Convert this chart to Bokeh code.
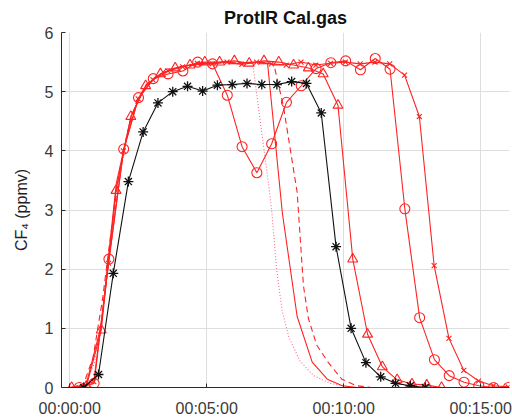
from bokeh.plotting import figure
from bokeh.models import Range1d, FixedTicker
from bokeh.embed import file_html
from bokeh.resources import INLINE

# ---- data (time in minutes, CF4 in ppmv) ----
x_ticks = [0, 5, 10, 15]
x_tick_labels = ["00:00:00", "00:05:00", "00:10:00", "00:15:00"]
y_ticks = [0, 1, 2, 3, 4, 5, 6]

black_t = [0.51, 1.05, 1.59, 2.14, 2.68, 3.22, 3.76, 4.30, 4.85, 5.39, 5.93, 6.47,
           7.01, 7.56, 8.10, 8.64, 9.18, 9.72, 10.27, 10.81, 11.35, 11.89, 12.43, 12.98]
black_v = [0.0, 0.22, 1.93, 3.48, 4.32, 4.81, 5.0, 5.09, 5.01, 5.11, 5.12, 5.14,
           5.12, 5.12, 5.17, 5.14, 4.64, 2.38, 1.0, 0.42, 0.18, 0.07, 0.03, 0.0]

circ_t = [0.35, 0.89, 1.43, 1.97, 2.51, 3.05, 3.59, 4.13, 4.67, 5.21, 5.75, 6.29,
          6.83, 7.37, 7.91, 8.45, 8.99, 9.53, 10.07, 10.61, 11.15, 11.69, 12.23,
          12.77, 13.31, 13.85, 14.39, 14.93, 15.47, 16.01]
circ_v = [0.0, 0.07, 2.17, 4.03, 4.9, 5.22, 5.3, 5.35, 5.5, 5.47, 4.94, 4.07,
          3.63, 4.12, 4.82, 5.1, 5.39, 5.49, 5.52, 5.37, 5.56, 5.38, 3.02,
          1.18, 0.47, 0.2, 0.09, 0.03, 0.0, 0.0]

xmk_t = [0.34, 0.88, 1.42, 1.96, 2.5, 3.04, 3.58, 4.12, 4.66, 5.2, 5.74, 6.28,
         6.82, 7.36, 7.9, 8.44, 8.98, 9.52, 10.06, 10.6, 11.14, 11.68, 12.22,
         12.76, 13.3, 13.84, 14.38, 14.92, 15.46, 16.0]
xmk_v = [0.0, 0.1, 2.1, 4.0, 4.88, 5.2, 5.35, 5.42, 5.48, 5.47, 5.5, 5.46,
         5.5, 5.47, 5.45, 5.5, 5.45, 5.48, 5.5, 5.47, 5.5, 5.47, 5.28,
         4.58, 2.06, 0.83, 0.29, 0.11, 0.03, 0.01]

tri_t = [0.07, 0.61, 1.15, 1.69, 2.23, 2.77, 3.31, 3.85, 4.39, 4.93, 5.47, 6.01,
         6.55, 7.09, 7.63, 8.17, 8.71, 9.25, 9.79, 10.33, 10.87, 11.41, 11.95,
         12.49, 13.03, 13.57]
tri_v = [0.0, 0.02, 0.97, 3.33, 4.58, 5.1, 5.3, 5.4, 5.45, 5.5, 5.5, 5.52,
         5.48, 5.52, 5.5, 5.45, 5.4, 5.3, 4.77, 2.17, 0.9, 0.35, 0.13,
         0.06, 0.04, 0.0]

solid_t = [0.05, 0.6, 1.15, 1.7, 2.25, 2.8, 3.35, 3.9, 4.45, 5.0, 5.55, 6.1,
           6.65, 7.22, 7.76, 8.3, 8.85, 9.4, 9.95, 10.5, 11.05]
solid_v = [0.0, 0.05, 1.05, 3.45, 4.6, 5.12, 5.3, 5.4, 5.45, 5.47, 5.5, 5.48,
           5.5, 5.48, 2.95, 1.2, 0.43, 0.14, 0.03, 0.0, 0.0]

dash_t = [0.0, 0.5, 0.85, 1.2, 1.5, 1.8, 2.1, 2.45, 2.8, 3.2, 3.7, 4.3, 5.0,
          5.7, 6.4, 7.0, 7.45, 7.8, 8.3, 8.53, 8.71, 9.01, 9.44, 9.93, 10.47, 11.0]
dash_v = [0.0, 0.05, 0.5, 1.5, 2.6, 3.6, 4.3, 4.85, 5.12, 5.28, 5.38, 5.45, 5.47,
          5.5, 5.48, 5.5, 5.46, 4.75, 3.3, 1.72, 1.17, 0.72, 0.42, 0.14, 0.03, 0.0]

dot_t = [0.0, 0.5, 0.9, 1.2, 1.5, 1.8, 2.1, 2.45, 2.8, 3.2, 3.7, 4.3, 5.0, 5.7,
         6.3, 6.67, 7.27, 7.37, 7.55, 7.75, 8.0, 8.4, 8.9, 9.5, 10.2]
dot_v = [0.0, 0.03, 0.4, 1.3, 2.5, 3.5, 4.25, 4.8, 5.1, 5.27, 5.37, 5.44, 5.47, 5.5,
         5.48, 5.5, 3.39, 3.0, 2.0, 1.3, 0.85, 0.45, 0.2, 0.07, 0.01]

RED = "#ff2222"
FONT = "Liberation Sans"

p = figure(width=512, height=419, output_backend="svg", toolbar_location=None,
           x_range=Range1d(-0.3, 16.05), y_range=Range1d(0, 6),
           min_border_left=61, min_border_right=3, min_border_top=30,
           min_border_bottom=29)

p.title.text = "ProtIR Cal.gas"
p.title.align = "center"
p.title.text_font = FONT
p.title.text_font_size = "18px"
p.title.text_font_style = "bold"
p.title.text_color = "#111111"
p.title.offset = 5

p.outline_line_color = None
p.background_fill_color = "white"
p.border_fill_color = "white"

for g in (p.xgrid, p.ygrid):
    g.grid_line_color = "#dedede"
    g.grid_line_width = 1
p.xgrid.ticker = FixedTicker(ticks=x_ticks)
p.ygrid.ticker = FixedTicker(ticks=y_ticks)

p.xaxis.ticker = FixedTicker(ticks=x_ticks)
p.xaxis.major_label_overrides = {t: s for t, s in zip(x_ticks, x_tick_labels)}
p.yaxis.ticker = FixedTicker(ticks=y_ticks)
for ax in (p.xaxis, p.yaxis):
    ax.major_label_text_font = FONT
    ax.major_label_text_font_size = "16px"
    ax.major_label_text_color = "#3a3a3a"
    ax.major_tick_out = 0
    ax.major_tick_in = 4
    ax.minor_tick_out = 0
    ax.minor_tick_in = 0
    ax.axis_line_color = "#2a2a2a"
    ax.major_tick_line_color = "#2a2a2a"
p.xaxis.major_label_standoff = 12
p.yaxis.major_label_standoff = 8
p.yaxis.axis_label = "CF\u2084 (ppmv)"
p.yaxis.axis_label_text_font = FONT
p.yaxis.axis_label_text_font_size = "16px"
p.yaxis.axis_label_text_font_style = "normal"
p.yaxis.axis_label_text_color = "#222222"
p.yaxis.axis_label_standoff = 12

LW = 1.1
# no-marker red lines
p.line(dot_t, dot_v, color="#ff6a8a", line_width=LW, line_dash="1 2")
p.line(solid_t, solid_v, color=RED, line_width=LW)
p.line(dash_t, dash_v, color=RED, line_width=LW, line_dash="6 4")

# marker red lines
p.line(tri_t, tri_v, color=RED, line_width=LW)
p.scatter(tri_t, tri_v, marker="triangle", size=10, line_color=RED,
          fill_color=None, line_width=LW)
p.line(xmk_t, xmk_v, color=RED, line_width=LW)
p.scatter(xmk_t, xmk_v, marker="x", size=7, line_color=RED, line_width=LW)
p.line(circ_t, circ_v, color=RED, line_width=LW)
p.scatter(circ_t, circ_v, marker="circle", size=10, line_color=RED,
          fill_color=None, line_width=LW)

# black series
p.line(black_t, black_v, color="#111111", line_width=LW)
p.scatter(black_t, black_v, marker="asterisk", size=10, line_color="#111111",
          line_width=1.3)

open("out.html", "w").write(file_html(p, INLINE))
